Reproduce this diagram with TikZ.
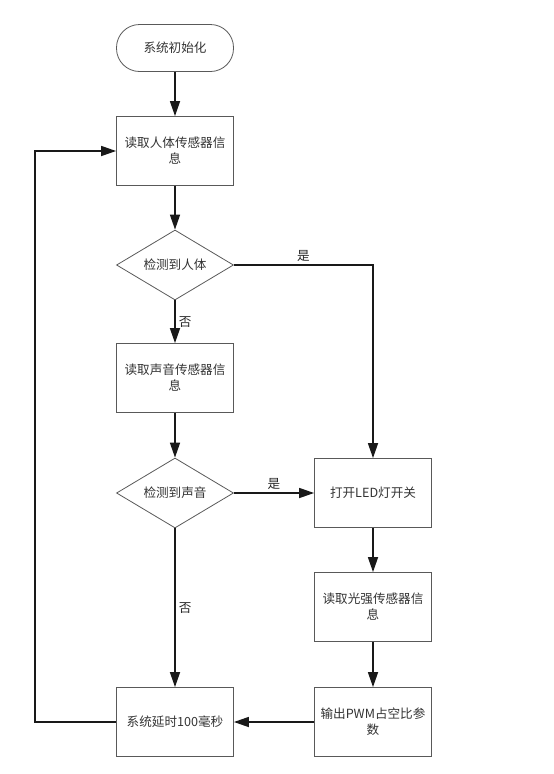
\documentclass[tikz,border=0pt]{standalone}
\usepackage{fontspec}
\setmainfont{Noto Sans CJK SC}
\usepackage{tikz}
\usetikzlibrary{arrows.meta,shapes.geometric}

\begin{document}
\begin{tikzpicture}[
    x=1pt, y=-1pt,
    font=\fontsize{12.6}{16}\selectfont,
    >={Triangle[length=15pt,width=10pt]},
    box/.style={draw=black!65, line width=0.8pt, rectangle, align=center,
        minimum width=117pt, minimum height=69pt, inner sep=2pt, text=black!80},
    term/.style={box, rounded corners=23pt, minimum height=47pt},
    cond/.style={draw=black!65, line width=0.8pt, diamond, aspect=1.67,
        minimum width=117pt, minimum height=70pt, inner sep=1pt, text=black!80},
    flow/.style={draw=black!90, line width=1.6pt},
    lbl/.style={text=black!85, inner sep=3pt}
]
\useasboundingbox (0,0) rectangle (554,774);

% =========================================================================
% 1. COLUMNA IZQUIERDA (inicio, sensores, retardo)
% =========================================================================
\node[term] (init)  at (175, 48)  {系统初始化};
\node[box]  (body)  at (175, 151) {读取人体传感器信\\息};
\node[cond] (chkb)  at (175, 265) {检测到人体};
\node[box]  (sound) at (175, 378) {读取声音传感器信\\息};
\node[cond] (chks)  at (175, 493) {检测到声音};
\node[box]  (delay) at (175, 722) {系统延时100毫秒};

% =========================================================================
% 2. COLUMNA DERECHA (LED, luz, PWM)
% =========================================================================
\node[box] (led)   at (373, 493) {打开LED灯开关};
\node[box] (light) at (373, 607) {读取光强传感器信\\息};
\node[box] (pwm)   at (373, 722) {输出PWM占空比参\\数};

% =========================================================================
% 3. CONEXIONES
% =========================================================================
\draw[flow, ->] (init) -- (body);
\draw[flow, ->] (body) -- (chkb);
\draw[flow, ->] (chkb) -- node[lbl, right] {否} (sound);
\draw[flow, ->] (chkb.east) -| node[lbl, pos=0.25, above] {是} (led.north);
\draw[flow, ->] (sound) -- (chks);
\draw[flow, ->] (chks.east) -- node[lbl, above] {是} (led.west);
\draw[flow, ->] (chks.south) -- node[lbl, right] {否} (delay.north);
\draw[flow, ->] (led) -- (light);
\draw[flow, ->] (light) -- (pwm);
\draw[flow, ->] (pwm.west) -- (delay.east);

% Lazo de retorno
\coordinate (back) at (35, 722);
\draw[flow, ->] (delay.west) -- (back) |- (body.west);

\end{tikzpicture}
\end{document}
